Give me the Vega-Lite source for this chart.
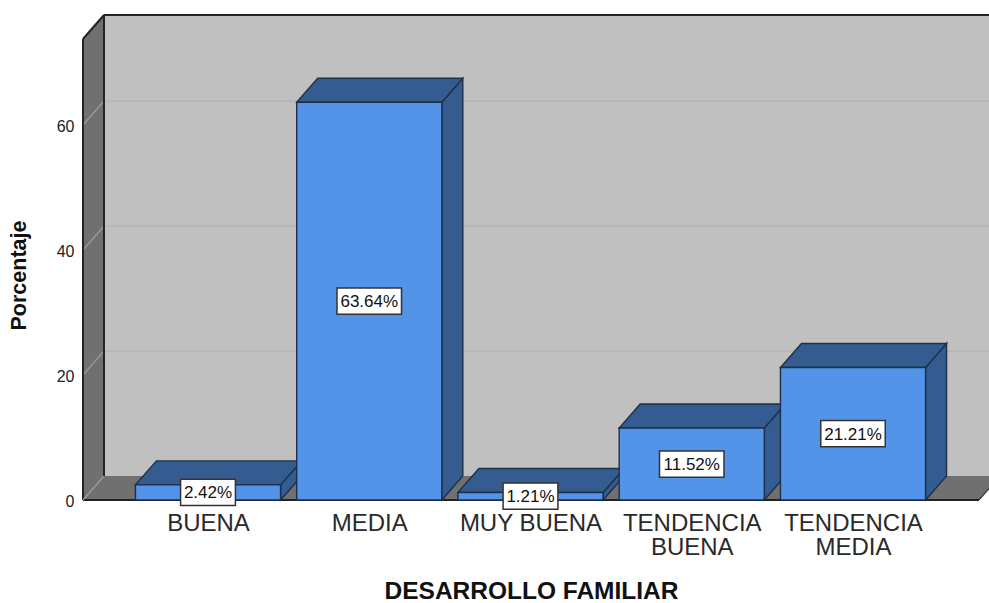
{
"$schema":"https://vega.github.io/schema/vega-lite/v6.json",
"width":906,"height":485,
"autosize":{"type":"none"},
"padding":{"left":83,"top":15,"right":0,"bottom":103},
"background":"white",
"config":{"view":{"stroke":null},"font":"Liberation Sans"},
"datasets":{
"bars":[
{"cat":"BUENA","idx":0,"value":2.42},
{"cat":"MEDIA","idx":1,"value":63.64},
{"cat":"MUY BUENA","idx":2,"value":1.21},
{"cat":"TENDENCIA BUENA","idx":3,"value":11.52},
{"cat":"TENDENCIA MEDIA","idx":4,"value":21.21}
],
"depth":[{"d":0},{"d":1}],
"grid":[{"v":20},{"v":40},{"v":60}],
"edges":[
{"e":"backleft","a":-0.645,"b":-0.645,"p":3.84,"q":77.6,"w":2,"c":"k"},
{"e":"sideleft","a":-0.7752,"b":-0.7752,"p":0,"q":73.76,"w":2,"c":"k"},
{"e":"slanttop","a":-0.7752,"b":-0.645,"p":73.76,"q":77.6,"w":2,"c":"k"},
{"e":"top","a":-0.645,"b":4.8434,"p":77.6,"q":77.6,"w":2,"c":"k"},
{"e":"front","a":-0.7752,"b":4.7814,"p":0,"q":0,"w":2,"c":"k"},
{"e":"floorright","a":4.7814,"b":4.9116,"p":0,"q":3.84,"w":1,"c":"k"},
{"e":"floorleft","a":-0.7752,"b":-0.645,"p":0,"q":3.84,"w":1,"c":"g"}
],
"one":[{"x0":-0.645,"x1":4.8434,"y0":3.84,"y1":77.6}]
},
"layer":[
{"data":{"name":"one"},"mark":{"type":"rect","fill":"#C0C0C0","clip":true},
"encoding":{
"x":{"field":"x0","type":"quantitative","scale":{"domain":[-0.7752,4.8434],"nice":false,"zero":false},
"axis":{"values":[0,1,2,3,4],"title":"DESARROLLO FAMILIAR","titleFont":"Liberation Sans","titleFontSize":24.5,"titleFontWeight":"bold","titleColor":"#111111","titleX":448,"titleY":98,"titleAnchor":"middle","titleBaseline":"alphabetic","domain":false,"ticks":false,"grid":false,"labelPadding":11,"labelFont":"Liberation Sans","labelFontSize":24,"labelColor":"#2a2a2a","labelLineHeight":24.5,"labelOverlap":false,"labelFlush":false,"labelBound":false,"labelAngle":0,
"labelExpr":"datum.value==0?'BUENA':datum.value==1?'MEDIA':datum.value==2?'MUY BUENA':datum.value==3?['TENDENCIA','BUENA']:['TENDENCIA','MEDIA']"}},
"x2":{"field":"x1"},
"y":{"field":"y0","type":"quantitative","scale":{"domain":[0,77.6],"nice":false},
"axis":{"values":[0,20,40,60],"title":"Porcentaje","titleFont":"Liberation Sans","titleFontSize":21.5,"titleFontWeight":"bold","titleColor":"#111111","titleX":-53,"titleY":260,"titleAnchor":"middle","domain":false,"ticks":false,"grid":false,"labelPadding":9,"labelOffset":1.5,"labelFont":"Liberation Sans","labelFontSize":16,"labelColor":"#222222","labelOverlap":false,"labelFlush":false,"labelBound":false}},
"y2":{"field":"y1"}}},
{"data":{"name":"depth"},"transform":[
{"calculate":"-0.7752+datum.d*0.1302","as":"x"},
{"calculate":"datum.d*3.84","as":"y0"},
{"calculate":"73.76+datum.d*3.84","as":"y1"}],
"mark":{"type":"area","orient":"vertical","fill":"#707070"},
"encoding":{"x":{"field":"x","type":"quantitative"},"y":{"field":"y0","type":"quantitative"},"y2":{"field":"y1"}}},
{"data":{"name":"depth"},"transform":[
{"calculate":"datum.d*3.84","as":"y"},
{"calculate":"-0.7752+datum.d*0.1302","as":"x0"},
{"calculate":"4.7814+datum.d*0.1302","as":"x1"}],
"mark":{"type":"area","orient":"horizontal","fill":"#707070","clip":true},
"encoding":{"y":{"field":"y","type":"quantitative"},"x":{"field":"x0","type":"quantitative"},"x2":{"field":"x1"}}},
{"data":{"name":"grid"},"transform":[
{"calculate":"datum.v+3.84","as":"vb"},
{"calculate":"-0.645","as":"a"},{"calculate":"4.8434","as":"b"}],
"mark":{"type":"rule","stroke":"#aeaeae","strokeWidth":1.2},
"encoding":{"x":{"field":"a","type":"quantitative"},"x2":{"field":"b"},"y":{"field":"vb","type":"quantitative"}}},
{"data":{"name":"grid"},"transform":[
{"calculate":"datum.v+3.84","as":"vb"},
{"calculate":"-0.7752","as":"a"},{"calculate":"-0.645","as":"b"}],
"mark":{"type":"rule","stroke":"#9c9c9c","strokeWidth":1.2},
"encoding":{"x":{"field":"a","type":"quantitative"},"x2":{"field":"b"},"y":{"field":"v","type":"quantitative"},"y2":{"field":"vb"}}},
{"data":{"name":"edges"},"transform":[{"filter":"datum.c=='k' && datum.w==2"}],
"mark":{"type":"rule","stroke":"#222222","strokeWidth":2},
"encoding":{"x":{"field":"a","type":"quantitative"},"x2":{"field":"b"},"y":{"field":"p","type":"quantitative"},"y2":{"field":"q"}}},
{"data":{"name":"edges"},"transform":[{"filter":"datum.c=='k' && datum.w==1"}],
"mark":{"type":"rule","stroke":"#333333","strokeWidth":1.2,"clip":true},
"encoding":{"x":{"field":"a","type":"quantitative"},"x2":{"field":"b"},"y":{"field":"p","type":"quantitative"},"y2":{"field":"q"}}},
{"data":{"name":"edges"},"transform":[{"filter":"datum.c=='g'"}],
"mark":{"type":"rule","stroke":"#9c9c9c","strokeWidth":1.2},
"encoding":{"x":{"field":"a","type":"quantitative"},"x2":{"field":"b"},"y":{"field":"p","type":"quantitative"},"y2":{"field":"q"}}},
{"data":{"name":"bars"},"transform":[
{"calculate":"[0,1]","as":"ds"},{"flatten":["ds"],"as":["d"]},
{"calculate":"datum.idx+0.45+datum.d*0.1302","as":"x"},
{"calculate":"datum.d*3.84","as":"y0"},
{"calculate":"datum.value+datum.d*3.84","as":"y1"}],
"mark":{"type":"area","orient":"vertical","fill":"#345C91","stroke":"#1E3048","strokeWidth":1.4},
"encoding":{"x":{"field":"x","type":"quantitative"},"y":{"field":"y0","type":"quantitative"},"y2":{"field":"y1"},"detail":{"field":"cat"}}},
{"data":{"name":"bars"},"transform":[
{"calculate":"[0,1]","as":"ds"},{"flatten":["ds"],"as":["d"]},
{"calculate":"datum.value+datum.d*3.84","as":"y"},
{"calculate":"datum.idx-0.45+datum.d*0.1302","as":"x0"},
{"calculate":"datum.idx+0.45+datum.d*0.1302","as":"x1"}],
"mark":{"type":"area","orient":"horizontal","fill":"#345C91","stroke":"#1E3048","strokeWidth":1.4},
"encoding":{"y":{"field":"y","type":"quantitative"},"x":{"field":"x0","type":"quantitative"},"x2":{"field":"x1"},"detail":{"field":"cat"}}},
{"data":{"name":"bars"},"transform":[
{"calculate":"datum.idx-0.45","as":"x0"},
{"calculate":"datum.idx+0.45","as":"x1"},
{"calculate":"0","as":"base"}],
"mark":{"type":"rect","fill":"#5394E8","stroke":"#1E3048","strokeWidth":1.4},
"encoding":{"x":{"field":"x0","type":"quantitative"},"x2":{"field":"x1"},"y":{"field":"base","type":"quantitative"},"y2":{"field":"value"}}},
{"data":{"name":"bars"},"transform":[
{"calculate":"datum.value>=10?0.2:0.17","as":"hw"},
{"calculate":"datum.idx-datum.hw","as":"x0"},
{"calculate":"datum.idx+datum.hw","as":"x1"},
{"calculate":"datum.value/2-2.1","as":"y0"},
{"calculate":"datum.value/2+2.1","as":"y1"}],
"mark":{"type":"rect","fill":"white","stroke":"#333333","strokeWidth":1.5},
"encoding":{"x":{"field":"x0","type":"quantitative"},"x2":{"field":"x1"},"y":{"field":"y0","type":"quantitative"},"y2":{"field":"y1"}}},
{"data":{"name":"bars"},"transform":[
{"calculate":"format(datum.value,'.2f')+'%'","as":"label"},
{"calculate":"datum.value/2","as":"ym"}],
"mark":{"type":"text","font":"Liberation Sans","fontSize":17,"dy":1,"color":"#111111","align":"center","baseline":"middle"},
"encoding":{"x":{"field":"idx","type":"quantitative"},"y":{"field":"ym","type":"quantitative"},"text":{"field":"label"}}}
]
}
